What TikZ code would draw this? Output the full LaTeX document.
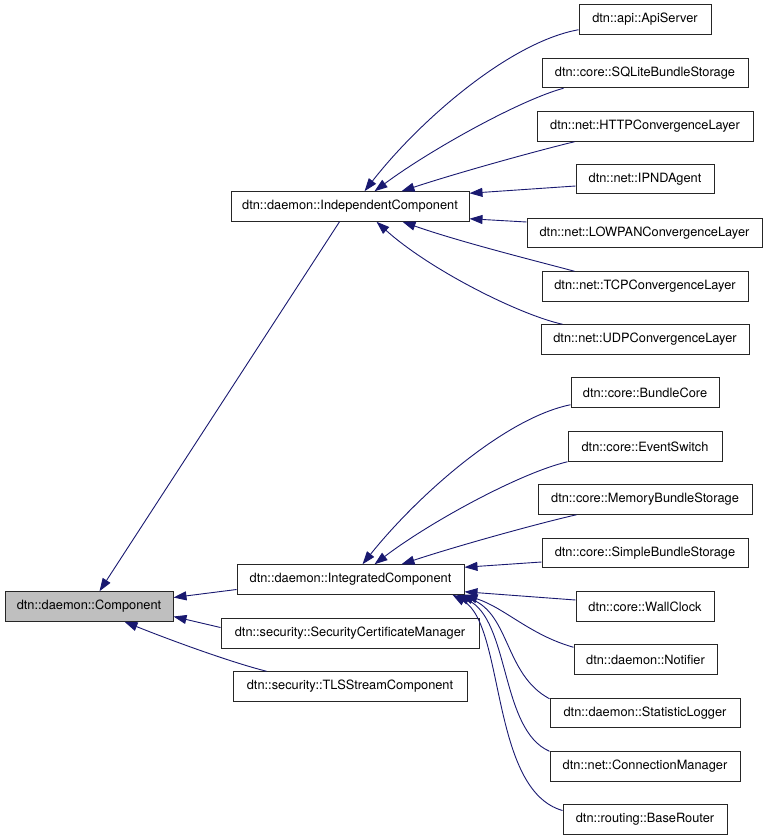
\documentclass[tikz,border=0pt]{standalone}
\usepackage{fontspec}
\setmainfont{TeX Gyre Heros}
\usetikzlibrary{arrows.meta,calc}
\definecolor{edgec}{HTML}{191970}
\definecolor{boxfill}{HTML}{BFBFBF}
\begin{document}
\begin{tikzpicture}[x=1pt,y=-1pt,
  cls/.style={draw=black!85,line width=1pt,minimum height=29.5pt,inner sep=0pt,
    font=\fontsize{12.8}{15}\selectfont,fill=white},
  inh/.style={draw=edgec,line width=0.9pt,-{Triangle[length=13pt,width=9pt]}}]
\useasboundingbox (0,0) rectangle (768,840);
% nodes
\node[cls,fill=boxfill,minimum width=168pt] (comp) at (89,606.5) {dtn::daemon::Component};
\node[cls,minimum width=238pt] (ind) at (350,206.5) {dtn::daemon::IndependentComponent};
\node[cls,minimum width=227pt] (int) at (350.5,579.5) {dtn::daemon::IntegratedComponent};
\node[cls,minimum width=258pt] (sec) at (350,633.5) {dtn::security::SecurityCertificateManager};
\node[cls,minimum width=234pt] (tls) at (350,686.5) {dtn::security::TLSStreamComponent};
\node[cls,minimum width=132pt] (api) at (645,19.5) {dtn::api::ApiServer};
\node[cls,minimum width=206pt] (sql) at (645,73) {dtn::core::SQLiteBundleStorage};
\node[cls,minimum width=216pt] (http) at (645,126.5) {dtn::net::HTTPConvergenceLayer};
\node[cls,minimum width=138pt] (ipnd) at (645,179) {dtn::net::IPNDAgent};
\node[cls,minimum width=235pt] (lowpan) at (644.5,233) {dtn::net::LOWPANConvergenceLayer};
\node[cls,minimum width=206pt] (tcp) at (645,286.5) {dtn::net::TCPConvergenceLayer};
\node[cls,minimum width=208pt] (udp) at (645,339.5) {dtn::net::UDPConvergenceLayer};
\node[cls,minimum width=148pt] (bcore) at (645,392.5) {dtn::core::BundleCore};
\node[cls,minimum width=154pt] (evs) at (645,446.5) {dtn::core::EventSwitch};
\node[cls,minimum width=214pt] (mem) at (645,499.5) {dtn::core::MemoryBundleStorage};
\node[cls,minimum width=206pt] (simple) at (645,553) {dtn::core::SimpleBundleStorage};
\node[cls,minimum width=138pt] (wall) at (645,606.5) {dtn::core::WallClock};
\node[cls,minimum width=143pt] (notif) at (645.5,659.5) {dtn::daemon::Notifier};
\node[cls,minimum width=190pt] (stat) at (645,713) {dtn::daemon::StatisticLogger};
\node[cls,minimum width=190pt] (conn) at (645,766.5) {dtn::net::ConnectionManager};
\node[cls,minimum width=164pt] (router) at (645,819.5) {dtn::routing::BaseRouter};
% edges to IndependentComponent
\draw[inh] ($(api.south west)+(0,-5)$) .. controls (510,42) and (420,120) .. ($(ind.north west)+(134,0)$);
\draw[inh] ($(sql.south west)+(22,0)$) .. controls (520,100) and (430,150) .. ($(ind.north west)+(144,0)$);
\draw[inh] ($(http.south west)+(38,0)$) .. controls (540,150) and (460,172) .. ($(ind.north west)+(171,0)$);
\draw[inh] ($(ipnd.west)+(0,7)$) -- ($(ind.north east)+(0,2)$);
\draw[inh] ($(lowpan.west)+(0,-11)$) -- ($(ind.south east)+(0,-3)$);
\draw[inh] ($(tcp.north west)+(33,0)$) .. controls (540,262) and (460,242) .. ($(ind.south west)+(172,0)$);
\draw[inh] ($(udp.north west)+(22,0)$) .. controls (520,315) and (430,270) .. ($(ind.south west)+(146,0)$);
% edges to IntegratedComponent
\draw[inh] ($(bcore.south west)+(0,-3)$) .. controls (505,418) and (418,495) .. ($(int.north west)+(126,0)$);
\draw[inh] ($(evs.south west)+(0,0)$) .. controls (520,473) and (430,522) .. ($(int.north west)+(138,0)$);
\draw[inh] ($(mem.south west)+(39,0)$) .. controls (540,523) and (460,545) .. ($(int.north west)+(165,0)$);
\draw[inh] ($(simple.west)+(0,9)$) -- ($(int.north east)+(0,3)$);
\draw[inh] ($(wall.west)+(0,-6.5)$) -- ($(int.south east)+(0,-3)$);
\draw[inh] ($(notif.north west)+(0,3)$) .. controls (530,635) and (505,608) .. ($(int.south east)+(0,0)$);
\draw[inh] ($(stat.north west)+(0,1)$) .. controls (505,675) and (510,615) .. ($(int.south east)+(-4,0)$);
\draw[inh] ($(conn.north west)+(0,0)$) .. controls (500,730) and (510,620) .. ($(int.south east)+(-8,0)$);
\draw[inh] ($(router.west)+(0,-9)$) .. controls (490,790) and (505,625) .. ($(int.south east)+(-12,0)$);
% edges to Component
\draw[inh] ($(ind.south west)+(109,0)$) -- ($(comp.north west)+(95,0)$);
\draw[inh] ($(int.west)+(0,10)$) -- ($(comp.east)+(0,-9)$);
\draw[inh] ($(sec.west)+(0,-6)$) -- ($(comp.east)+(0,10)$);
\draw[inh] ($(tls.north west)+(34,0)$) .. controls (230,662) and (170,640) .. ($(comp.south west)+(120,0)$);
\end{tikzpicture}
\end{document}
